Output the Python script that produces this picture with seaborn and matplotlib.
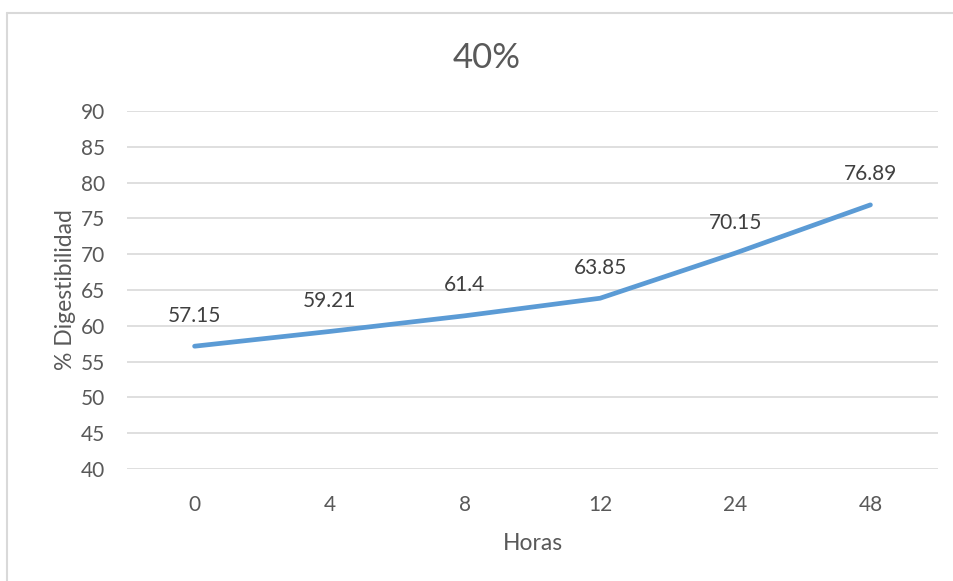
import matplotlib
matplotlib.use("Agg")
import matplotlib.pyplot as plt
from matplotlib.lines import Line2D
import seaborn as sns
import pandas as pd

horas = ["0", "4", "8", "12", "24", "48"]
digestibilidad = [57.15, 59.21, 61.4, 63.85, 70.15, 76.89]
etiquetas = ["57.15", "59.21", "61.4", "63.85", "70.15", "76.89"]
y_ticks = [40, 45, 50, 55, 60, 65, 70, 75, 80, 85, 90]

sns.set_theme(style="white")
plt.rcParams["font.family"] = ["Lato", "DejaVu Sans"]

texto = "#595959"
rejilla = "#D9D9D9"
azul = "#5B9BD5"

df = pd.DataFrame({"Horas": horas, "Digestibilidad": digestibilidad})
df["pos"] = range(len(df))

fig = plt.figure(figsize=(9.54, 5.81), dpi=100)
ax = fig.add_axes([127 / 954, 1 - 469 / 581, (938 - 127) / 954, (469 - 111) / 581])

sns.lineplot(data=df, x="pos", y="Digestibilidad", ax=ax, color=azul,
             linewidth=3.4, solid_capstyle="round", solid_joinstyle="round",
             zorder=3)

for i, (v, t) in enumerate(zip(digestibilidad, etiquetas)):
    ax.annotate(t, (i, v), xytext=(0, 22), textcoords="offset points",
                ha="center", va="center", fontsize=15, color="#404040")

ax.set_xlim(-0.5, len(horas) - 0.5)
ax.set_ylim(40, 90)
ax.set_xticks(range(len(horas)))
ax.set_xticklabels(horas)
ax.set_yticks(y_ticks)
ax.tick_params(axis="both", length=0, labelsize=15, labelcolor=texto)
ax.tick_params(axis="y", pad=16)
ax.tick_params(axis="x", pad=19)
ax.grid(axis="y", color=rejilla, linewidth=1.2)
ax.set_axisbelow(True)
for s in ax.spines.values():
    s.set_visible(False)

ax.set_xlabel("Horas", fontsize=16.5, color=texto, labelpad=13)
ax.set_ylabel("% Digestibilidad", fontsize=16.5, color=texto, labelpad=3)
fig.text(487 / 954, 1 - 58 / 581, "40%", ha="center", va="center",
         fontsize=25, color=texto)

# outer chart frame
fig.add_artist(Line2D([7 / 954, 1], [1 - 13 / 581] * 2, transform=fig.transFigure,
                      color="#D9D9D9", linewidth=1.5))
fig.add_artist(Line2D([7 / 954] * 2, [0, 1 - 13 / 581], transform=fig.transFigure,
                      color="#D9D9D9", linewidth=1.5))

fig.savefig("out.png", dpi=100, facecolor="white")
